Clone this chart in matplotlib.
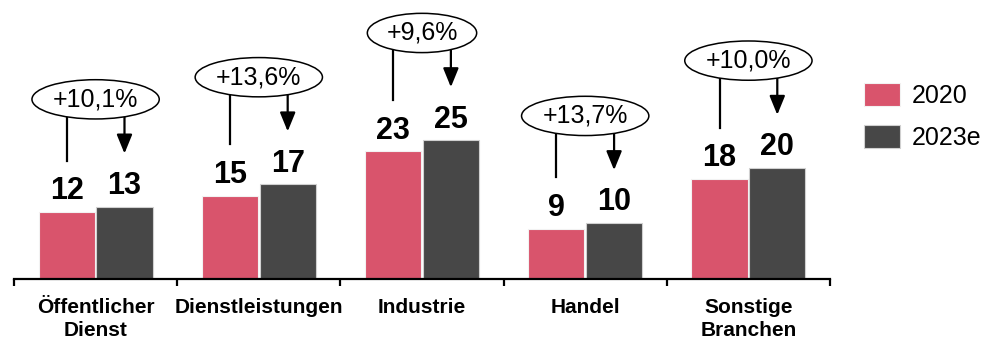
import numpy as np
import matplotlib.pyplot as plt
from matplotlib.patches import Ellipse

plt.rcParams['font.family'] = ['Liberation Sans', 'DejaVu Sans']

# Werte je Branche
branchen = ['Öffentlicher\nDienst', 'Dienstleistungen', 'Industrie',
            'Handel', 'Sonstige\nBranchen']
werte_2020 = [12, 15, 23, 9, 18]
werte_2023e = [13, 17, 25, 10, 20]
veraenderung = ['+10,1%', '+13,6%', '+9,6%', '+13,7%', '+10,0%']

ROT = '#D9546C'
GRAU = '#474747'
BAR_W = 0.345


def zeichne_balken(ax, x):
    b1 = ax.bar(x - 0.177, werte_2020, BAR_W, color=ROT,
                edgecolor='#f2f2f2', linewidth=0.8, label='2020')
    b2 = ax.bar(x + 0.177, werte_2023e, BAR_W, color=GRAU,
                edgecolor='#d0d0d0', linewidth=0.8, label='2023e')
    for xi, v in zip(x - 0.177, werte_2020):
        ax.text(xi, v + 2.3, str(v), ha='center', va='baseline',
                fontsize=22, fontweight='bold')
    for xi, v in zip(x + 0.177, werte_2023e):
        ax.text(xi, v + 2.3, str(v), ha='center', va='baseline',
                fontsize=22, fontweight='bold')
    return b1, b2


def zeichne_wachstum(ax, x):
    # Ellipse mit Prozentwert, Linie vom alten Wert, Pfeil zum neuen Wert
    for xi, v0, v1, txt in zip(x, werte_2020, werte_2023e, veraenderung):
        yc = v1 + 19.4
        breite = 0.78 if len(txt) > 5 else 0.67
        ax.plot([xi - 0.177, xi - 0.177], [yc, v0 + 9.3],
                color='black', lw=1.6, clip_on=False, zorder=2)
        ax.annotate('', xy=(xi + 0.177, v1 + 9.6), xytext=(xi + 0.177, yc),
                    arrowprops=dict(arrowstyle='-|>,head_length=1.15,'
                                    'head_width=0.47',
                                    color='black', lw=1.6,
                                    shrinkA=0, shrinkB=0),
                    zorder=2, annotation_clip=False)
        ell = Ellipse((xi, yc), breite, 7.1, facecolor='white',
                      edgecolor='black', lw=1.1, zorder=3, clip_on=False)
        ax.add_patch(ell)
        ax.text(xi, yc, txt, ha='center', va='center', fontsize=18,
                zorder=4)


fig = plt.figure(figsize=(9.86, 3.4), dpi=100)
ax = fig.add_axes([14 / 986, 61.5 / 340, 816 / 986, 276.5 / 340])

x = np.arange(len(branchen)) + 0.5
b1, b2 = zeichne_balken(ax, x)
zeichne_wachstum(ax, x)

ax.set_xlim(0, len(branchen))
ax.set_ylim(0, 50)
ax.set_yticks([])
for s in ['left', 'right', 'top']:
    ax.spines[s].set_visible(False)
ax.spines['bottom'].set_linewidth(1.6)

ax.set_xticks(x)
ax.set_xticklabels(branchen, fontsize=15, fontweight='bold',
                   linespacing=1.3)
ax.tick_params(axis='x', which='major', length=0, pad=14)
ax.set_xticks(np.arange(len(branchen) + 1), minor=True)
ax.tick_params(axis='x', which='minor', length=5, width=1.6,
               direction='out')

fig.legend(handles=[b1, b2], loc='upper left',
           bbox_to_anchor=(864 / 986, 1 - 83 / 340), frameon=False,
           fontsize=18, handlelength=1.44, handleheight=1.04,
           handletextpad=0.48, labelspacing=0.68, borderpad=0,
           borderaxespad=0)

fig.savefig('out.png', dpi=100)
